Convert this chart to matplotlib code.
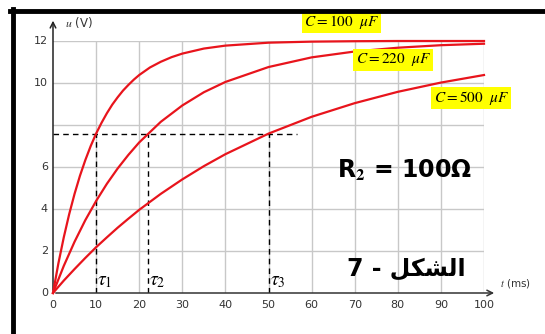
import numpy as np
import matplotlib
matplotlib.use("Agg")
import matplotlib.pyplot as plt
from matplotlib.lines import Line2D

plt.rcParams['mathtext.fontset'] = 'stix'

# values (t in ms, u in V)
t_100 = [0, 1.25, 2.5, 3.75, 5, 6.25, 7.5, 8.75, 10, 11.25, 12.5, 13.75, 15, 16.25, 17.5,
         18.75, 20, 22.5, 25, 27.5, 30, 35, 40, 50, 60, 70, 80, 90, 100]
u_100 = [0, 1.41, 2.65, 3.75, 4.72, 5.58, 6.33, 7.00, 7.59, 8.10, 8.56, 8.97, 9.32, 9.64, 9.91,
         10.16, 10.38, 10.74, 11.01, 11.23, 11.40, 11.64, 11.78, 11.92, 11.97, 11.99, 12.0, 12.0, 12.0]
t = [0, 2.5, 5, 7.5, 10, 12.5, 15, 17.5, 20, 25, 30, 35, 40, 50, 60, 70, 80, 90, 100]
u_220 = [0, 1.29, 2.44, 3.47, 4.38, 5.20, 5.93, 6.58, 7.17, 8.15, 8.93, 9.56, 10.05,
         10.76, 11.22, 11.50, 11.68, 11.80, 11.87]
u_500 = [0, 0.59, 1.14, 1.67, 2.18, 2.65, 3.11, 3.54, 3.96, 4.72, 5.41, 6.04, 6.61,
         7.59, 8.39, 9.04, 9.58, 10.02, 10.38]
taus = [10, 22, 50]
u_tau = 7.56
labels = ["$C = 100\\ \\ \\mu F$", "$C = 220\\ \\ \\mu F$", "$C = 500\\ \\ \\mu F$"]
xticks = [0, 10, 20, 30, 40, 50, 60, 70, 80, 90, 100]
yticks = [0, 2, 4, 6, 10, 12]

W, H = 545, 334
fig = plt.figure(figsize=(W / 100, H / 100), dpi=100)
ax = fig.add_axes([53 / W, (H - 293) / H, 431 / W, 252 / H])
ax.set_xlim(0, 100)
ax.set_ylim(0, 12)
for s in ax.spines.values():
    s.set_visible(False)
ax.set_xticks([])
ax.set_yticks([])

# grid
for x in range(10, 101, 10):
    ax.plot([x, x], [0, 12], color='#c8c8c8', lw=1, zorder=1)
for y in range(2, 13, 2):
    ax.plot([0, 100], [y, y], color='#c8c8c8', lw=1, zorder=1)

# axes with arrows
ax.annotate('', xy=(103, 0), xytext=(0, 0), annotation_clip=False,
            arrowprops=dict(arrowstyle='->', color='#333333', lw=1.1))
ax.annotate('', xy=(0, 13.1), xytext=(0, 0), annotation_clip=False,
            arrowprops=dict(arrowstyle='->', color='#222222', lw=1.1))

for x in xticks:
    ax.text(x, -0.35, str(x), ha='center', va='top', fontsize=8, color='#333333')
for y in yticks:
    ax.text(-1.2, y, str(y), ha='right', va='center', fontsize=8, color='#333333')
ax.text(2.8, 12.9, "$u$ (V)", fontsize=8.5, color='#333333', va='center')
ax.text(103.8, 0.45, "$t$ (ms)", fontsize=7.5, color='#333333', va='center')

# curves
ax.plot(t_100, u_100, color='#e8141c', lw=1.6, zorder=3, clip_on=False)
for u in [u_220, u_500]:
    ax.plot(t, u, color='#e8141c', lw=1.6, zorder=3, clip_on=False)

# tau construction
ax.plot([0, 56.5], [u_tau, u_tau], color='black', lw=1, ls=(0, (4, 3)), zorder=2)
for i, tau in enumerate(taus):
    ax.plot([tau, tau], [0, u_tau], color='black', lw=1, ls=(0, (4, 3)), zorder=2)
    ax.text(tau + 0.3, 0.15, "$\\tau_%d$" % (i + 1), fontsize=14, ha='left', va='bottom')

# curve labels
for (x, y), lab in zip([(67, 12.9), (78.9, 11.1), (97, 9.29)], labels):
    ax.text(x, y, lab, ha='center', va='center', fontsize=11,
            bbox=dict(facecolor='#ffff00', edgecolor='none', pad=1.5), clip_on=False, zorder=5)

ax.text(81.5, 5.86, "R$_\\mathbf{2}$ = 100Ω", fontsize=17, fontweight='bold',
        ha='center', va='center', family=['DejaVu Sans'])
ax.text(82, 1.15, "7 - ﻞﻜﺸﻟﺍ", fontsize=17, fontweight='bold',
        ha='center', va='center', family=['DejaVu Sans'])

# black frame
fig.add_artist(Line2D([10 / W, 1], [1 - 11 / H, 1 - 11 / H], color='black', lw=3.5))
fig.add_artist(Line2D([13 / W, 13 / W], [0, 1 - 9 / H], color='black', lw=3.5))

fig.savefig("out.png", dpi=100)
